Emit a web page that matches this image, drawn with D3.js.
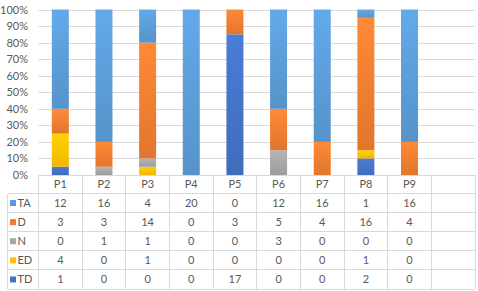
<!DOCTYPE html>
<html lang="en">
<head>
  <meta charset="UTF-8">
  <title>Stacked 100% chart</title>
  <script src="https://d3js.org/d3.v7.min.js"></script>
  <style>
    body { margin: 0; background: #fff; }
    text { font-family: Lato, "Open Sans", sans-serif; font-size: 11px; fill: #595959; }
  </style>
</head>
<body>
  <script>
    const categories = ["P1", "P2", "P3", "P4", "P5", "P6", "P7", "P8", "P9"];
    const TA = [12, 16, 4, 20, 0, 12, 16, 1, 16];
    const D  = [3, 3, 14, 0, 3, 5, 4, 16, 4];
    const N  = [0, 1, 1, 0, 0, 3, 0, 0, 0];
    const ED = [4, 0, 1, 0, 0, 0, 0, 1, 0];
    const TD = [1, 0, 0, 0, 17, 0, 0, 2, 0];
    const yTicks = [0, 0.1, 0.2, 0.3, 0.4, 0.5, 0.6, 0.7, 0.8, 0.9, 1];

    const series = [
      {key: "TA", values: TA, color: "#5B9BD5"},
      {key: "D",  values: D,  color: "#ED7D31"},
      {key: "N",  values: N,  color: "#A5A5A5"},
      {key: "ED", values: ED, color: "#FFC000"},
      {key: "TD", values: TD, color: "#4472C4"}
    ];
    const color = d3.scaleOrdinal(series.map(s => s.key), series.map(s => s.color));

    const W = 478, H = 291;
    const plotLeft = 38.5, plotRight = 475, plotTop = 9.5, plotBottom = 175;
    const tableLeft = 7.5, rowH = 19.1;

    const svg = d3.select("body").append("svg")
      .attr("width", W).attr("height", H);

    // gradients, lighter at the top of each segment
    const defs = svg.append("defs");
    series.forEach(s => {
      const g = defs.append("linearGradient")
        .attr("id", "g-" + s.key)
        .attr("x1", 0).attr("y1", 0).attr("x2", 0).attr("y2", 1);
      g.append("stop").attr("offset", "0%").attr("stop-color", d3.color(s.color).brighter(0.25));
      g.append("stop").attr("offset", "100%").attr("stop-color", d3.color(s.color).darker(0.15));
    });

    const cols = categories.concat([""]);
    const x = d3.scaleBand().domain(cols).range([plotLeft, plotRight]);
    const y = d3.scaleLinear().domain([0, 1]).range([plotBottom, plotTop]);

    // gridlines
    svg.append("g").selectAll("line")
      .data(yTicks.filter(t => t > 0))
      .enter().append("line")
        .attr("x1", plotLeft).attr("x2", plotRight)
        .attr("y1", d => Math.round(y(d)) + 0.5).attr("y2", d => Math.round(y(d)) + 0.5)
        .attr("stroke", "#d9d9d9");

    // y labels
    svg.append("g").selectAll("text")
      .data(yTicks)
      .enter().append("text")
        .attr("x", 28).attr("y", d => y(d) + 4)
        .attr("text-anchor", "end")
        .text(d => d3.format(".0%")(d));

    // stacked bars
    const rows = categories.map((c, i) => {
      const r = {cat: c};
      series.forEach(s => r[s.key] = s.values[i]);
      return r;
    });
    const stack = d3.stack()
      .keys(["TD", "ED", "N", "D", "TA"])
      .offset(d3.stackOffsetExpand);
    const stacked = stack(rows);

    const barW = 17;
    svg.append("g").selectAll("g")
      .data(stacked)
      .enter().append("g")
        .attr("fill", d => "url(#g-" + d.key + ")")
      .selectAll("rect")
      .data(d => d.filter(p => p[1] - p[0] > 0))
      .enter().append("rect")
        .attr("x", p => x(p.data.cat) + (x.bandwidth() - barW) / 2)
        .attr("y", p => y(p[1]))
        .attr("width", barW)
        .attr("height", p => y(p[0]) - y(p[1]));

    // data table
    const tableTop = plotBottom;
    const headerH = 18.5;
    const rowY = d3.scaleBand()
      .domain(series.map(s => s.key))
      .range([tableTop + headerH, tableTop + headerH + rowH * series.length]);

    const grid = svg.append("g").attr("stroke", "#d9d9d9").attr("shape-rendering", "crispEdges");
    grid.append("line").attr("x1", plotLeft).attr("x2", plotRight).attr("y1", tableTop).attr("y2", tableTop);
    rowY.domain().forEach(k => {
      grid.append("line").attr("x1", tableLeft).attr("x2", plotRight)
        .attr("y1", rowY(k)).attr("y2", rowY(k));
    });
    const tableBottom = rowY.range()[1];
    grid.append("line").attr("x1", tableLeft).attr("x2", plotRight)
      .attr("y1", tableBottom).attr("y2", tableBottom);
    cols.forEach(c => {
      grid.append("line").attr("x1", x(c)).attr("x2", x(c)).attr("y1", tableTop).attr("y2", tableBottom);
    });
    grid.append("line").attr("x1", plotRight).attr("x2", plotRight).attr("y1", tableTop).attr("y2", tableBottom);
    grid.append("line").attr("x1", tableLeft).attr("x2", tableLeft)
      .attr("y1", rowY.range()[0]).attr("y2", tableBottom);

    // header labels
    svg.append("g").selectAll("text")
      .data(categories)
      .enter().append("text")
        .attr("x", d => x(d) + x.bandwidth() / 2)
        .attr("y", tableTop + headerH / 2 + 4)
        .attr("text-anchor", "middle")
        .text(d => d);

    // series rows
    const rowG = svg.append("g").selectAll("g")
      .data(series)
      .enter().append("g")
        .attr("transform", s => "translate(0," + rowY(s.key) + ")");
    rowG.append("rect")
      .attr("x", 10).attr("y", rowH / 2 - 3).attr("width", 6).attr("height", 6)
      .attr("fill", s => color(s.key));
    rowG.append("text")
      .attr("x", 17.5).attr("y", rowH / 2 + 4)
      .text(s => s.key);
    rowG.selectAll("text.v")
      .data(s => s.values.map((v, i) => ({cat: categories[i], v: v})))
      .enter().append("text")
        .attr("class", "v")
        .attr("x", d => x(d.cat) + x.bandwidth() / 2)
        .attr("y", rowH / 2 + 4)
        .attr("text-anchor", "middle")
        .text(d => d.v);
  </script>
</body>
</html>
